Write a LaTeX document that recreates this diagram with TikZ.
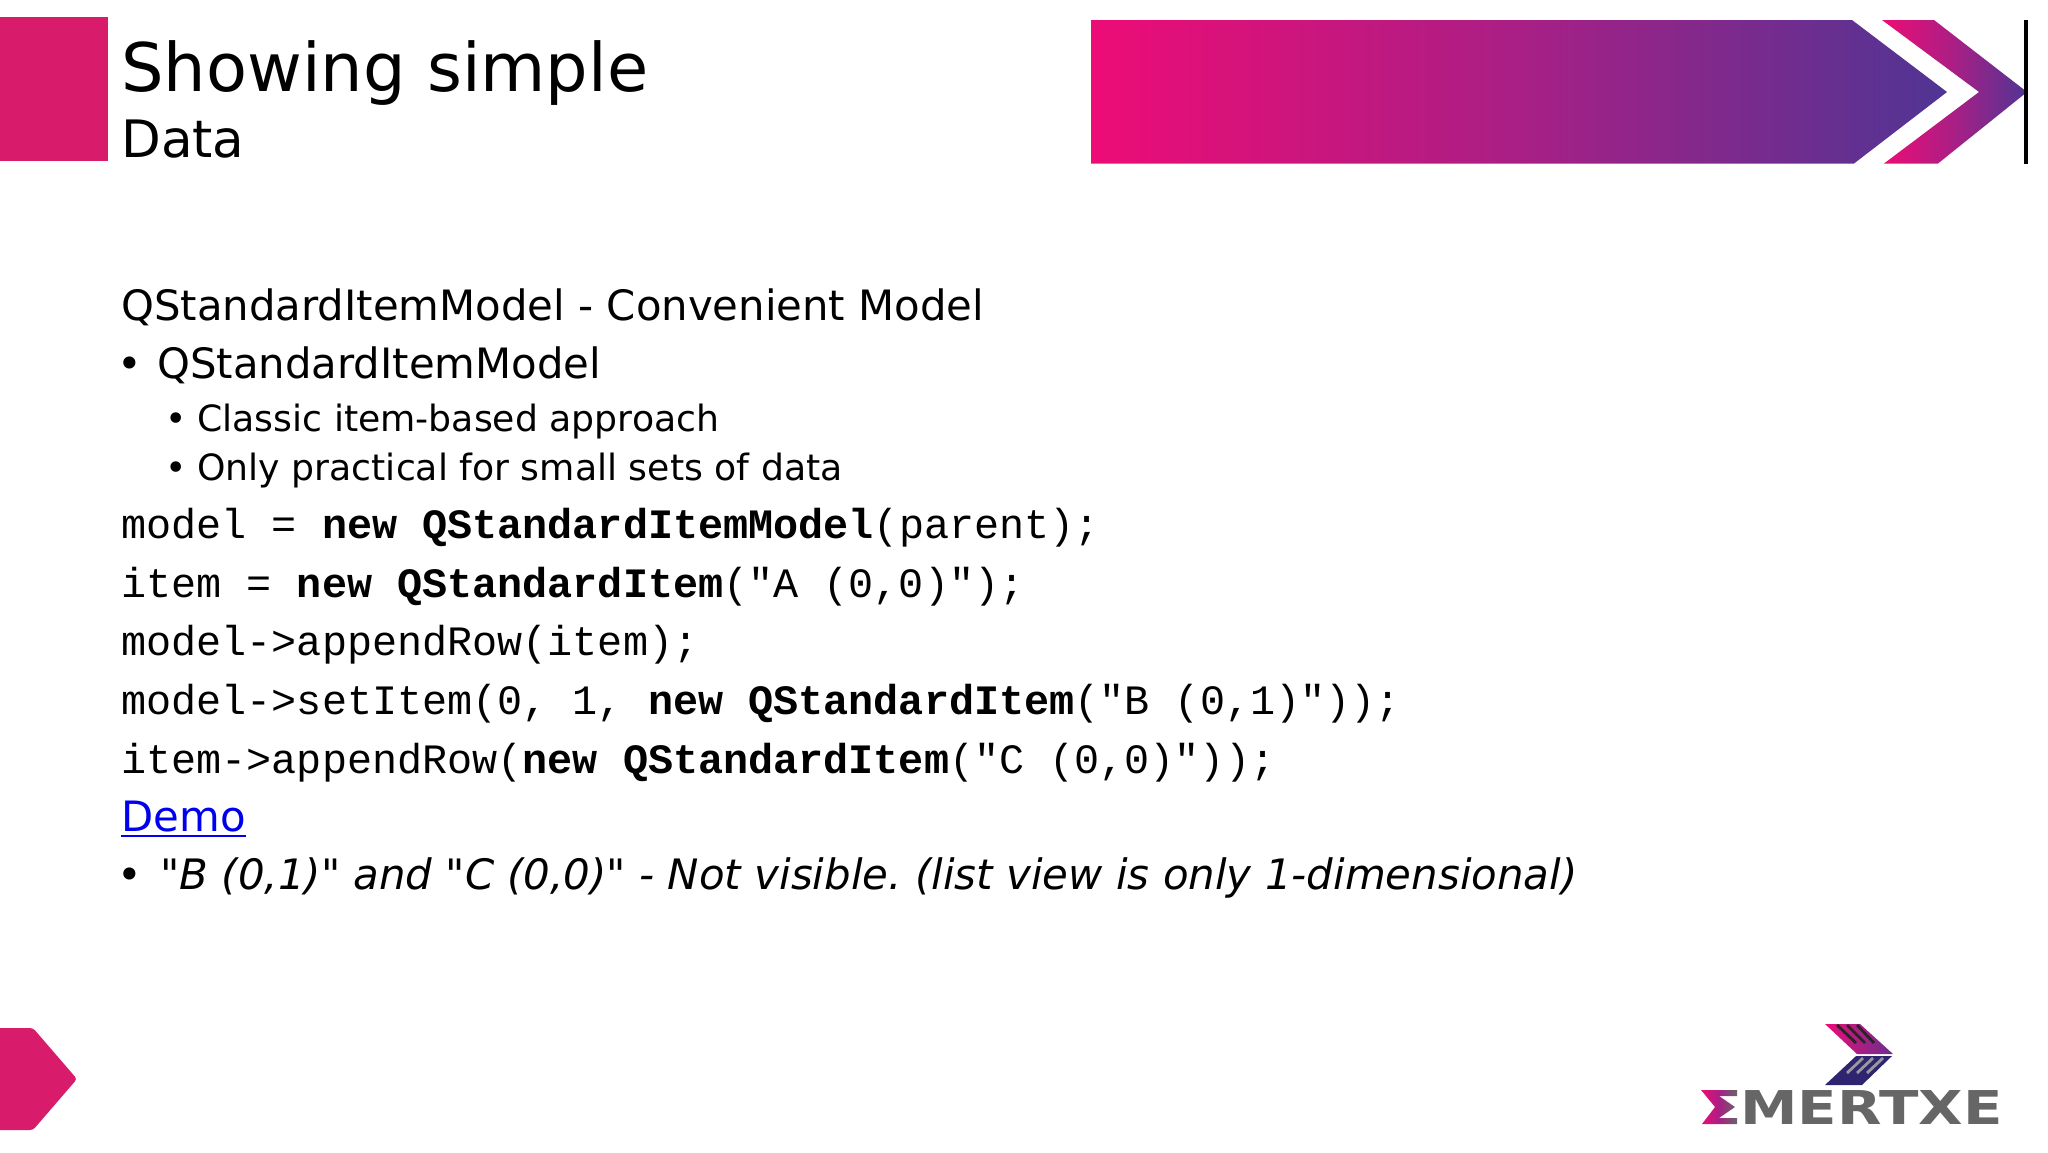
\documentclass[tikz,border=0pt]{standalone}
\usepackage{fontspec}
\setmainfont[Ligatures = TeXOff]{DejaVu Sans}
\setmonofont{Liberation Mono}
\newfontfamily\logofont[FakeStretch = 1.24]{DejaVu Sans Bold}
\usetikzlibrary{positioning}
\definecolor{slidered}{HTML}{D81B6A}
\definecolor{bannerpink}{HTML}{ED0C76}
\definecolor{bannermid}{HTML}{A91F85}
\definecolor{bannerblue}{HTML}{4F3594}
\definecolor{logonavy}{HTML}{2E2470}
\definecolor{logogrey}{HTML}{666666}
\definecolor{linkblue}{HTML}{0000EE}
\tikzset{
  line0/.style = {
    anchor = base west,
    inner sep = 0pt,
    font = \fontsize{20.9}{25}\selectfont,
  }
}
\tikzset{
  line1/.style = {
    line0,
    font = \fontsize{18.1}{22}\selectfont,
  }
}
\tikzset{
  code0/.style = {
    line0,
    font = \fontsize{20.9}{25}\selectfont\ttfamily,
  }
}
\tikzset{
  stripe1/.style = {
    draw = black!85!white, line width = 1.4pt,
  }
}
\tikzset{
  stripe2/.style = {
    draw = gray!80!white, line width = 1.4pt,
  }
}
\begin{document}
\begin{tikzpicture}[x = 0.5pt, y = -0.5pt]
        \useasboundingbox (0, 0) rectangle (2048, 1152);
        % header
        \fill[slidered] (0, 17) rectangle (108, 161);
        \node[line0, font = \fontsize{33.5}{40}\selectfont](title) at (121, 91){Showing simple};
        \node[line0, font = \fontsize{25.8}{30}\selectfont](subtitle) at (121, 157){Data};
        \shade[left color = bannerpink, right color = bannerblue, middle color = bannermid]
            (1091, 20) -- (1852, 20) -- (1947, 92) -- (1854, 163.5) -- (1091, 163.5) -- cycle;
        \shade[left color = bannerpink, right color = bannerblue, middle color = bannermid]
            (1882, 20) -- (1934, 20) -- (2027, 92) -- (1938, 163.5) -- (1884, 163.5) -- (1979, 92) -- cycle;
        \draw[black, line width = 1.75pt] (2026, 20) -- (2026, 163.5);
        % body
        \node[line0](head) at (121, 320){QStandardItemModel - Convenient Model};
        \node[line0](bullet1) at (117, 378){•};
        \node[line0](item1) at (157, 378){QStandardItemModel};
        \node[line1](bullet2) at (165, 431){•};
        \node[line1](item2) at (197, 431){Classic item-based approach};
        \node[line1](bullet3) at (165, 480){•};
        \node[line1](item3) at (197, 480){Only practical for small sets of data};
        \node[code0](code1) at (121, 538){model = \textbf{new QStandardItemModel}(parent);};
        \node[code0](code2) at (121, 597){item = \textbf{new QStandardItem}("A (0,0)");};
        \node[code0](code3) at (121, 655){model->appendRow(item);};
        \node[code0](code4) at (121, 714){model->setItem(0, 1, \textbf{new QStandardItem}("B (0,1)"));};
        \node[code0](code5) at (121, 773){item->appendRow(\textbf{new QStandardItem}("C (0,0)"));};
        \node[line0, text = linkblue](demo) at (121, 831){Demo};
        \draw[linkblue, line width = 1.1pt] ([yshift = -2.6pt]demo.base west) -- ([yshift = -2.6pt]demo.base east);
        \node[line0](bullet4) at (117, 889){•};
        \node[line0, font = \fontsize{20.95}{25}\selectfont\itshape\frenchspacing](item4) at (160, 889){"B (0,1)" and "C (0,0)" - Not visible. (list view is only 1-dimensional)};
        % footer
        \fill[slidered, rounded corners = 1.5pt] (-10, 1028) -- (33, 1028) -- (77, 1079) -- (33, 1130) -- (-10, 1130) -- cycle;
        % logo
        \shade[left color = bannerpink, right color = bannerblue!70!bannermid]
            (1825, 1024) -- (1860, 1024) -- (1893, 1054) -- (1857, 1054) -- cycle;
        \fill[logonavy] (1856, 1056) -- (1892, 1056) -- (1862, 1085) -- (1825, 1085) -- cycle;
        \foreach \k in {0, 1, 2} {
            \draw[stripe1] (1837 + 10*\k, 1025) -- (1856 + 9*\k, 1043);
            \draw[stripe2] (1883 - 10*\k, 1058) -- (1867 - 10*\k, 1073);
        }
        \shade[left color = bannerpink, right color = logogrey, middle color = bannermid]
            (1701, 1090) -- (1737, 1090) -- (1737, 1096) -- (1719, 1096) -- (1735, 1107) -- (1719, 1118)
            -- (1737, 1118) -- (1737, 1124) -- (1702, 1124) -- (1715, 1107) -- cycle;
        \node[anchor = base west, inner sep = 0pt, text = logogrey, font = \fontsize{23.3}{28}\logofont\selectfont](logo) at (1740, 1124){MERTXE};
    \end{tikzpicture}
\end{document}
